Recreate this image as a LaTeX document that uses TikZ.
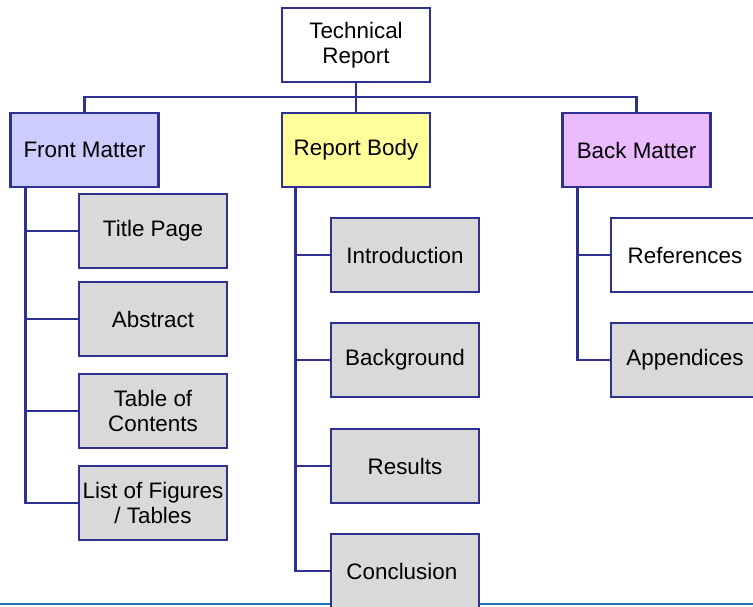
\documentclass[tikz,border=0pt]{standalone}
\usepackage{fontspec}
\setmainfont{Liberation Sans}
\usepackage{tikz}
\usetikzlibrary{positioning}

\tikzset{
  part/.style={draw=linecol, line width=2.7pt, minimum width=148pt, minimum height=74pt,
    inner sep=0pt, align=center, font=\fontsize{22.4}{25.5}\selectfont},
  item/.style={part, fill=itemgray},
  link/.style={draw=linecol, line width=2.7pt}
}

\begin{document}
\begin{tikzpicture}[x=1pt, y=-1pt]
    \definecolor{linecol}{HTML}{2E3192}
    \definecolor{itemgray}{HTML}{D9D9D9}
    \definecolor{frontcol}{HTML}{CCCCFF}
    \definecolor{bodycol}{HTML}{FFFF99}
    \definecolor{backcol}{HTML}{EBBBFF}
    \definecolor{rulecol}{HTML}{1F72B8}
    \useasboundingbox (0,0) rectangle (753,606);
    \clip (0,0) rectangle (753,606);
    \draw[rulecol, line width=2.5pt] (0,604) -- (753,604);  %Linie unten
    % Kopf und die drei Teile
    \node[part, fill=white] (report) at (356,45) {Technical\\Report};
    \node[part, fill=frontcol] (front) at (84.5,150) {Front Matter};
    \node[part, fill=bodycol] (body) at (356,150) {Report Body};
    \node[part, fill=backcol] (back) at (636.5,150) {Back Matter};
    \coordinate (bus) at (356,97);
    \draw[link] (report) -- (body);
    \draw[link] (front.north) |- (bus) -| (back.north);
    % Stämme
    \coordinate (fronttrunk) at ([xshift=16pt]front.south west);
    \coordinate (bodytrunk) at ([xshift=15pt]body.south west);
    \coordinate (backtrunk) at ([xshift=16pt]back.south west);
    \foreach \name/\y/\txt in
    {
      title/231/Title Page,
      abstract/319/Abstract,
      toc/411/Table of\\Contents,
      lof/503/List of Figures\\{/} Tables
    }
    {
      \node[item] (\name) at (153,\y) {\txt};
      \draw[link] (fronttrunk) |- (\name.west);
    }
    \foreach \name/\y/\txt in
    {
      intro/255/Introduction,
      background/360/Background,
      results/466/Results,
      conclusion/571/Conclusion
    }
    {
      \node[item] (\name) at (405,\y) {\txt};
      \draw[link] (bodytrunk) |- (\name.west);
    }
    \node[part, fill=white] (refs) at (685,255) {References};
    \node[item] (appendix) at (685,360) {Appendices};
    \draw[link] (backtrunk) |- (refs.west);
    \draw[link] (backtrunk) |- (appendix.west);
  \end{tikzpicture}
\end{document}
